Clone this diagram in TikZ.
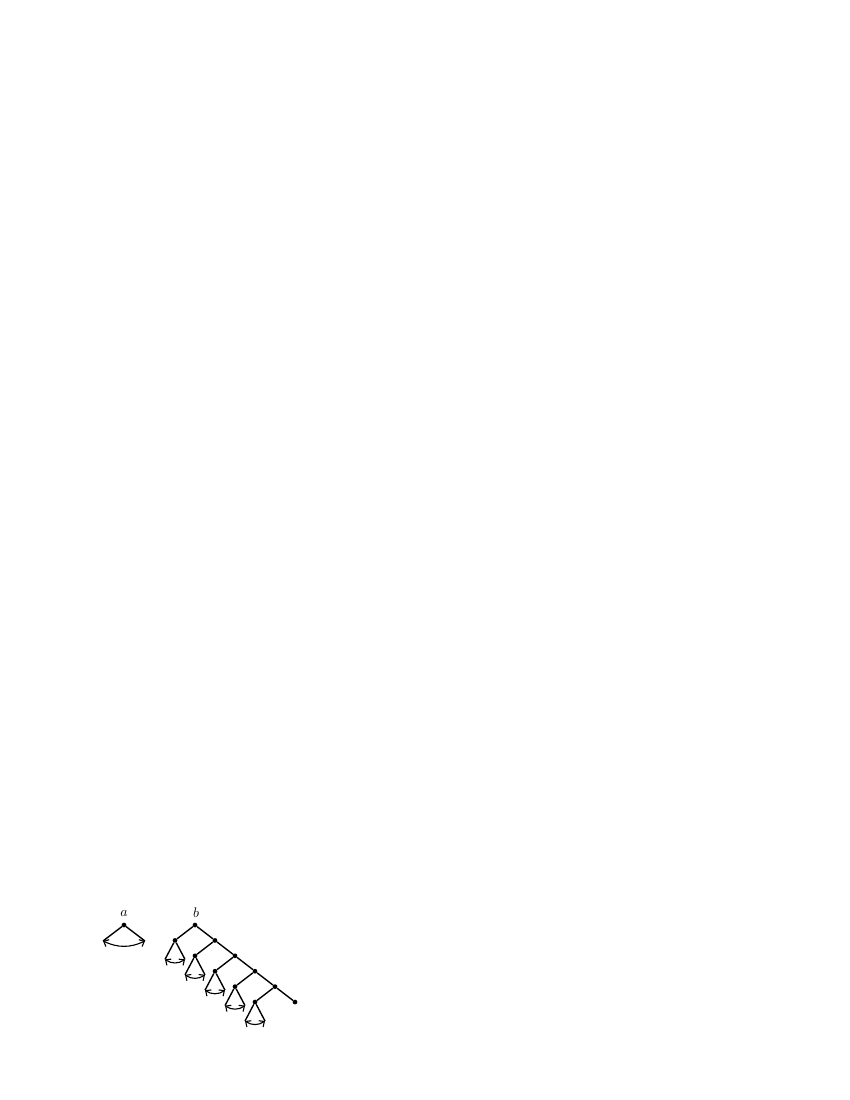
\documentclass[tikz,border=0pt]{standalone}
\usetikzlibrary{arrows.meta}
\begin{document}
\begin{tikzpicture}[x=0.72pt,y=-0.72pt,
  dot/.style={circle,fill,inner sep=0pt,minimum size=3.4pt},
  edge/.style={line width=1pt},
  swap/.style={line width=0.8pt,{Straight Barb[length=3pt,width=5.5pt]}-{Straight Barb[length=3pt,width=5.5pt]}}]
\useasboundingbox (0,0) rectangle (850,1100);
% tree a
\node[dot] (a0) at (124,925) {};
\coordinate (a1) at (103,941);
\coordinate (a2) at (145,941);
\node (la) at (124,913) {$a$};
\draw[edge] (a1) -- (a0) -- (a2);
\draw[swap] (a1) to[bend right=25] (a2);
% tree b
\node (lb) at (196,913) {$b$};
\foreach \i in {0,...,5}{
  \node[dot] (s\i) at ({195+20*\i},{925+15.4*\i}) {};
}
\foreach \i in {0,...,4}{
  \node[dot] (c\i) at ({175+20*\i},{940.4+15.4*\i}) {};
  \coordinate (l\i) at ({165+20*\i},{959.4+15.4*\i});
  \coordinate (r\i) at ({185+20*\i},{959.4+15.4*\i});
  \draw[edge] (s\i) -- (c\i);
  \draw[edge] (l\i) -- (c\i) -- (r\i);
  \draw[swap] (l\i) to[bend right=35] (r\i);
}
\draw[edge] (s0) -- (s1) -- (s2) -- (s3) -- (s4) -- (s5);
\end{tikzpicture}
\end{document}
